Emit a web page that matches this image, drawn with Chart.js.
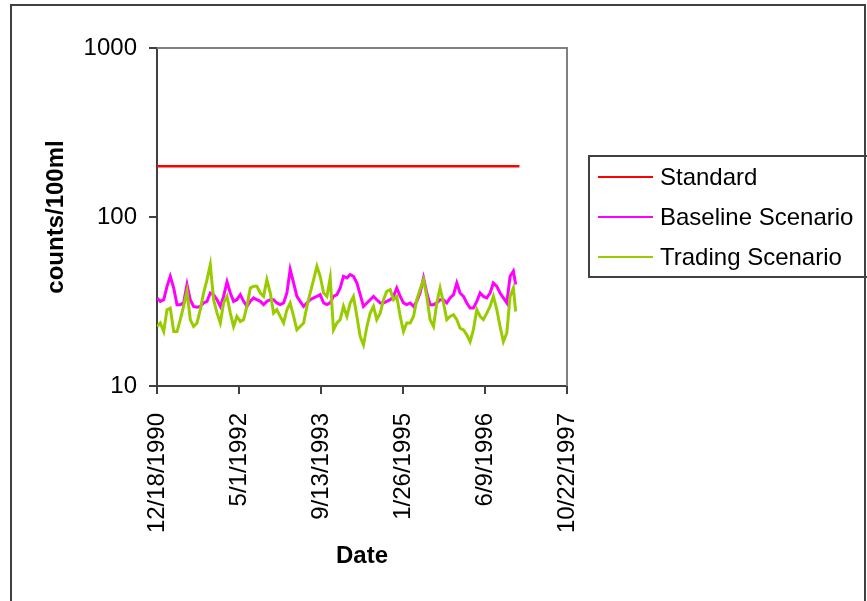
<!DOCTYPE html>
<html>
<head>
<meta charset="utf-8">
<script src="https://cdn.jsdelivr.net/npm/chart.js@4/dist/chart.umd.min.js"></script>
<style>
  html, body { margin: 0; padding: 0; background: #fff; }
  #wrap { width: 867px; height: 601px; position: relative; }
</style>
</head>
<body>
<div id="wrap"><canvas id="bacteriaChart"></canvas></div>
<script>
// days since 12/18/1990
const sampleDays = [
  0, 20, 41, 61, 81, 102, 122, 142, 162, 183,
  203, 223, 244, 264, 284, 305, 325, 345, 366, 386,
  406, 427, 447, 467, 487, 508, 528, 548, 569, 589,
  609, 630, 650, 670, 691, 711, 731, 751, 772, 792,
  812, 833, 853, 873, 894, 914, 934, 955, 975, 995,
  1016, 1036, 1056, 1076, 1097, 1117, 1137, 1158, 1178, 1198,
  1219, 1239, 1259, 1280, 1300, 1320, 1340, 1361, 1381, 1401,
  1422, 1442, 1462, 1483, 1503, 1523, 1544, 1564, 1584, 1604,
  1625, 1645, 1665, 1686, 1706, 1726, 1747, 1767, 1787, 1808,
  1828, 1848, 1869, 1889, 1909, 1929, 1950, 1970, 1990, 2011,
  2031, 2051, 2072, 2092, 2112, 2133, 2153, 2173, 2187
];

const baselineValues = [
  33.2, 31.7, 32.4, 38.9, 44.6, 38.0, 30.3, 30.3, 31.0, 39.8,
  32.4, 29.6, 29.3, 29.6, 31.0, 31.7, 35.5, 34.7, 32.4, 29.6,
  33.9, 41.3, 35.5, 31.7, 32.4, 34.7, 31.7, 29.6, 31.7, 33.2,
  32.4, 31.7, 30.3, 31.7, 32.4, 32.4, 31.0, 30.3, 31.0, 35.5,
  48.9, 40.7, 33.9, 31.7, 29.6, 31.0, 32.4, 33.2, 33.9, 34.7,
  31.0, 30.3, 31.0, 33.9, 34.7, 38.0, 44.6, 43.6, 45.6, 44.6,
  40.7, 34.7, 29.6, 31.0, 32.4, 33.9, 32.4, 31.0, 31.0, 31.7,
  32.4, 33.9, 38.0, 33.9, 31.0, 30.3, 31.0, 29.6, 31.7, 35.5,
  43.6, 35.5, 30.3, 30.3, 31.0, 32.4, 32.4, 31.0, 33.2, 34.7,
  40.7, 35.5, 33.9, 31.0, 28.9, 28.9, 31.7, 35.5, 33.9, 33.2,
  35.5, 40.7, 38.9, 35.5, 33.2, 31.0, 44.6, 47.8, 39.8
];

const tradingValues = [
  22.5, 23.6, 21.0, 28.3, 28.9, 21.0, 21.0, 24.7, 29.6, 36.3,
  24.7, 22.5, 23.6, 28.3, 35.5, 42.6, 52.3, 32.4, 27.0, 23.6,
  31.0, 33.9, 27.0, 22.5, 25.8, 24.1, 24.7, 29.6, 38.0, 38.9,
  38.9, 35.5, 33.9, 42.6, 35.5, 27.0, 28.3, 25.8, 23.6, 28.3,
  31.0, 25.8, 21.5, 22.5, 23.6, 29.6, 35.5, 42.6, 51.2, 44.6,
  35.5, 33.9, 43.6, 21.5, 23.6, 24.7, 29.6, 25.8, 31.0, 33.9,
  25.8, 19.6, 17.5, 22.5, 27.0, 29.6, 24.7, 27.0, 32.4, 36.3,
  37.2, 32.4, 33.9, 25.8, 21.0, 23.6, 23.6, 25.8, 32.4, 37.2,
  42.6, 33.9, 24.7, 22.5, 31.0, 38.0, 31.0, 24.7, 25.8, 26.4,
  24.7, 22.0, 21.5, 20.1, 18.3, 21.5, 28.3, 25.8, 24.7, 27.0,
  29.6, 33.9, 28.3, 22.5, 18.3, 20.6, 33.9, 38.0, 27.6
];

const standardDays = [0, 2210];
const standardValues = [200, 200];

const dateTickLabels = ['12/18/1990', '5/1/1992', '9/13/1993', '1/26/1995', '6/9/1996', '10/22/1997'];
const yTickValues = [10, 100, 1000];

const seriesNames = ['Standard', 'Baseline Scenario', 'Trading Scenario'];
const seriesColors = ['#FF0000', '#FF00FF', '#99CC00'];

function toPoints(days, values) {
  return days.map((d, i) => ({ x: d, y: values[i] }));
}

Chart.defaults.font.family = '"Liberation Sans", Arial, sans-serif';
Chart.defaults.font.size = 24;
Chart.defaults.color = '#000';

// gray top/right border of the plot area + outer frame + boxed legend
const decorations = {
  id: 'decorations',
  afterDraw(chart) {
    const ctx = chart.ctx;
    const a = chart.chartArea;
    ctx.save();
    ctx.lineWidth = 2;
    ctx.strokeStyle = '#808080';
    ctx.beginPath();
    ctx.moveTo(a.left, a.top);
    ctx.lineTo(a.right, a.top);
    ctx.lineTo(a.right, a.bottom);
    ctx.stroke();

    ctx.strokeStyle = '#404040';
    ctx.strokeRect(11, 5, 854, 640);

    // legend
    const lx = a.right + 22, ly = 156;
    ctx.strokeStyle = '#404040';
    ctx.strokeRect(lx, ly, 300, 121);
    ctx.font = '24px "Liberation Sans", Arial, sans-serif';
    ctx.textBaseline = 'middle';
    ctx.fillStyle = '#000';
    seriesNames.forEach((name, i) => {
      const y = ly + 21 + i * 40;
      ctx.strokeStyle = seriesColors[i];
      ctx.lineWidth = 2;
      ctx.beginPath();
      ctx.moveTo(lx + 9, y);
      ctx.lineTo(lx + 64, y);
      ctx.stroke();
      ctx.fillText(name, lx + 71, y + 1);
    });
    ctx.restore();
  }
};

const ctx = document.getElementById('bacteriaChart').getContext('2d');
new Chart(ctx, {
  type: 'line',
  data: {
    datasets: [
      {
        label: seriesNames[0],
        data: toPoints(standardDays, standardValues),
        borderColor: seriesColors[0],
        borderWidth: 2.5,
        pointRadius: 0,
        order: 2
      },
      {
        label: seriesNames[1],
        data: toPoints(sampleDays, baselineValues),
        borderColor: seriesColors[1],
        borderWidth: 3,
        pointRadius: 0,
        order: 1
      },
      {
        label: seriesNames[2],
        data: toPoints(sampleDays, tradingValues),
        borderColor: seriesColors[2],
        borderWidth: 3,
        pointRadius: 0,
        order: 0
      }
    ]
  },
  options: {
    responsive: true,
    maintainAspectRatio: false,
    animation: false,
    layout: { padding: { left: 0, top: 48, right: 300, bottom: 0 } },
    plugins: {
      legend: { display: false },
      tooltip: { enabled: false }
    },
    scales: {
      x: {
        type: 'linear',
        min: 0,
        max: 2500,
        afterFit: (s) => { s.height = 215; },
        afterBuildTicks: (s) => { s.ticks = dateTickLabels.map((_, i) => ({ value: i * 500 })); },
        ticks: {
          minRotation: 90,
          maxRotation: 90,
          padding: 19,
          autoSkip: false,
          callback: (v) => dateTickLabels[Math.round(v / 500)]
        },
        grid: { drawOnChartArea: false, tickLength: 8, color: '#404040', lineWidth: 2 },
        border: { color: '#404040', width: 2 },
        title: { display: true, text: 'Date', font: { weight: 'bold', size: 24 }, padding: { top: 0, bottom: 30 } }
      },
      y: {
        type: 'logarithmic',
        min: 10,
        max: 1000,
        afterFit: (s) => { s.width = 157; },
        afterBuildTicks: (s) => { s.ticks = yTickValues.map(v => ({ value: v })); },
        ticks: {
          padding: 12,
          callback: (v) => String(v)
        },
        grid: { drawOnChartArea: false, tickLength: 8, color: '#404040', lineWidth: 2 },
        border: { color: '#404040', width: 2 },
        title: { display: true, text: 'counts/100ml', font: { weight: 'bold', size: 24 }, padding: { top: 42, bottom: 0 } }
      }
    }
  },
  plugins: [decorations]
});
</script>
</body>
</html>
